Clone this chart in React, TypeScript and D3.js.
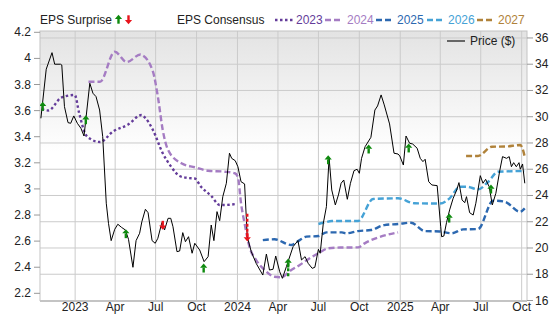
import React from "react";
import * as d3 from "d3";

// ---------- DATA ----------
const PRICE: [string, number][] = [
  ["2022-10-16", 29.88], ["2022-10-28", 33.62], ["2022-11-10", 34.88], ["2022-11-16", 34.0],
  ["2022-11-29", 34.0], ["2022-12-02", 33.94], ["2022-12-08", 30.77], ["2022-12-16", 29.55],
  ["2022-12-22", 29.5], ["2022-12-29", 30.06], ["2023-01-06", 29.5], ["2023-01-14", 29.12],
  ["2023-01-21", 28.53], ["2023-02-03", 32.55], ["2023-02-10", 31.79], ["2023-02-17", 31.53],
  ["2023-02-25", 30.51], ["2023-03-04", 28.48], ["2023-03-12", 23.41], ["2023-03-17", 21.88],
  ["2023-03-23", 20.56], ["2023-03-31", 21.42], ["2023-04-07", 21.81], ["2023-04-15", 21.58],
  ["2023-04-24", 21.37], ["2023-05-01", 20.66], ["2023-05-11", 18.53], ["2023-05-18", 20.56],
  ["2023-05-26", 21.12], ["2023-05-31", 22.0], ["2023-06-08", 22.95], ["2023-06-14", 22.69],
  ["2023-06-23", 20.56], ["2023-06-30", 20.36], ["2023-07-06", 20.74], ["2023-07-15", 21.93],
  ["2023-07-21", 21.37], ["2023-07-29", 22.26], ["2023-08-04", 22.26], ["2023-08-09", 21.62],
  ["2023-08-18", 19.72], ["2023-08-24", 19.77], ["2023-08-31", 21.17], ["2023-09-06", 20.48],
  ["2023-09-13", 20.86], ["2023-09-21", 19.6], ["2023-09-27", 20.36], ["2023-10-08", 19.85],
  ["2023-10-18", 18.96], ["2023-10-27", 19.34], ["2023-11-03", 21.75], ["2023-11-09", 20.56],
  ["2023-11-16", 22.77], ["2023-11-22", 22.08], ["2023-11-29", 23.91], ["2023-12-07", 24.93],
  ["2023-12-14", 27.22], ["2023-12-19", 26.83], ["2023-12-27", 26.65], ["2024-01-02", 26.19],
  ["2024-01-09", 25.05], ["2024-01-17", 24.88], ["2024-01-23", 20.86], ["2024-02-01", 19.72],
  ["2024-02-12", 18.83], ["2024-02-27", 17.94], ["2024-03-06", 19.54], ["2024-03-13", 18.32],
  ["2024-03-21", 18.38], ["2024-03-27", 19.39], ["2024-04-05", 18.19], ["2024-04-11", 17.69],
  ["2024-04-20", 18.58], ["2024-05-05", 20.1], ["2024-05-16", 20.56], ["2024-05-24", 19.09],
  ["2024-06-01", 19.34], ["2024-06-08", 18.83], ["2024-06-17", 18.45], ["2024-06-23", 18.53],
  ["2024-07-01", 19.9], ["2024-07-05", 19.6], ["2024-07-12", 21.88], ["2024-07-19", 23.15],
  ["2024-07-25", 26.88], ["2024-07-31", 24.42], ["2024-08-08", 23.28], ["2024-08-15", 24.04],
  ["2024-08-21", 24.93], ["2024-08-27", 25.18], ["2024-09-04", 23.71], ["2024-09-11", 24.93],
  ["2024-09-19", 25.89], ["2024-09-26", 26.0], ["2024-10-01", 25.69], ["2024-10-06", 26.83],
  ["2024-10-14", 27.72], ["2024-10-27", 28.43], ["2024-11-05", 30.51], ["2024-11-11", 30.82],
  ["2024-11-19", 31.66], ["2024-11-26", 30.9], ["2024-12-08", 29.45], ["2024-12-18", 27.22],
  ["2024-12-27", 27.16], ["2024-12-31", 27.01], ["2025-01-08", 26.32], ["2025-01-14", 28.53],
  ["2025-01-22", 27.98], ["2025-01-29", 27.92], ["2025-02-08", 27.6], ["2025-02-15", 26.83],
  ["2025-02-21", 26.58], ["2025-02-26", 26.76], ["2025-03-06", 25.05], ["2025-03-13", 24.8],
  ["2025-03-25", 24.75], ["2025-04-02", 21.62], ["2025-04-04", 20.86], ["2025-04-09", 20.91],
  ["2025-04-15", 21.93], ["2025-04-22", 22.9], ["2025-04-30", 23.79], ["2025-05-08", 24.42],
  ["2025-05-13", 24.98], ["2025-05-20", 23.66], ["2025-05-26", 23.45], ["2025-05-30", 23.91],
  ["2025-06-06", 22.69], ["2025-06-14", 22.51], ["2025-06-20", 23.41], ["2025-06-30", 25.51],
  ["2025-07-06", 24.93], ["2025-07-12", 25.23], ["2025-07-20", 24.67], ["2025-07-27", 23.28],
  ["2025-08-04", 24.17], ["2025-08-13", 25.94], ["2025-08-19", 26.96], ["2025-08-28", 26.83],
  ["2025-09-03", 26.96], ["2025-09-08", 26.19], ["2025-09-13", 26.5], ["2025-09-19", 26.19],
  ["2025-09-25", 26.5], ["2025-09-28", 26.0], ["2025-10-03", 26.4], ["2025-10-08", 24.93],
];

const EPS_2023: [string, number][] = [
  ["2022-10-18", 3.612], ["2022-11-02", 3.601], ["2022-12-01", 3.7], ["2022-12-31", 3.72],
  ["2023-01-10", 3.582], ["2023-01-23", 3.428], ["2023-02-03", 3.386], ["2023-02-26", 3.359],
  ["2023-03-27", 3.44], ["2023-04-30", 3.493], ["2023-05-30", 3.566], ["2023-06-07", 3.547],
  ["2023-06-25", 3.451], ["2023-07-17", 3.273], ["2023-08-05", 3.17], ["2023-08-24", 3.099],
  ["2023-09-12", 3.084], ["2023-09-27", 3.08], ["2023-10-11", 3.017], ["2023-11-03", 2.946],
  ["2023-11-22", 2.877], ["2023-12-03", 2.877], ["2023-12-28", 2.884],
];

const EPS_2024: [string, number][] = [
  ["2023-01-31", 3.821], ["2023-02-26", 3.821], ["2023-03-31", 4.051], ["2023-04-27", 3.972],
  ["2023-05-28", 4.03], ["2023-05-31", 4.026], ["2023-06-25", 3.898], ["2023-07-06", 3.707],
  ["2023-07-17", 3.451], ["2023-07-29", 3.298], ["2023-08-28", 3.196], ["2023-09-27", 3.166],
  ["2023-10-27", 3.139], ["2023-12-03", 3.132], ["2023-12-26", 3.12], ["2024-01-02", 3.091],
  ["2024-01-09", 2.89], ["2024-01-17", 2.736], ["2024-01-28", 2.557], ["2024-02-12", 2.455],
  ["2024-03-02", 2.379], ["2024-03-24", 2.327], ["2024-04-08", 2.323], ["2024-05-01", 2.379],
  ["2024-05-20", 2.417], ["2024-06-08", 2.461], ["2024-07-01", 2.507], ["2024-07-23", 2.545],
  ["2024-08-19", 2.551], ["2024-09-28", 2.552], ["2024-10-13", 2.583], ["2024-12-27", 2.667],
];

const EPS_2025: [string, number][] = [
  ["2024-02-27", 2.608], ["2024-03-24", 2.614], ["2024-05-01", 2.57], ["2024-05-20", 2.608],
  ["2024-06-04", 2.634], ["2024-07-01", 2.639], ["2024-07-19", 2.667], ["2024-08-23", 2.667],
  ["2024-09-01", 2.66], ["2024-09-28", 2.677], ["2024-10-27", 2.685], ["2024-11-26", 2.723],
  ["2024-12-27", 2.731], ["2025-01-25", 2.741], ["2025-02-25", 2.677], ["2025-03-31", 2.674],
  ["2025-04-26", 2.66], ["2025-05-22", 2.69], ["2025-06-25", 2.693], ["2025-07-29", 2.91],
  ["2025-08-24", 2.902], ["2025-09-27", 2.825], ["2025-10-08", 2.851],
];

const EPS_2026: [string, number][] = [
  ["2024-07-01", 2.731], ["2024-07-16", 2.744], ["2024-07-31", 2.754], ["2024-09-28", 2.754],
  ["2024-11-01", 2.923], ["2024-12-27", 2.928], ["2025-02-02", 2.89], ["2025-03-31", 2.888],
  ["2025-04-22", 2.928], ["2025-05-15", 3.017], ["2025-05-30", 3.017], ["2025-06-25", 2.997],
  ["2025-07-18", 3.055], ["2025-08-09", 3.132], ["2025-10-08", 3.137],
];

const EPS_2027: [string, number][] = [
  ["2025-05-29", 3.252], ["2025-06-25", 3.252], ["2025-07-26", 3.323], ["2025-08-27", 3.325],
  ["2025-09-28", 3.336], ["2025-10-08", 3.247],
];

// earnings surprises: date, price level, direction, optional long-tail price
const SURPRISE_DATES = [
  "2022-10-20", "2023-01-25", "2023-04-25", "2023-07-17", "2023-10-17", "2024-01-23",
  "2024-04-24", "2024-07-23", "2024-10-22", "2025-01-20", "2025-04-21", "2025-07-24",
];
const SURPRISE_PRICES = [30.77, 29.75, 21.07, 21.75, 18.45, 20.86, 18.83, 26.7, 27.52, 27.6, 22.26, 24.47];
const SURPRISE_DIRS = ["up", "up", "up", "down", "up", "down", "up", "up", "up", "up", "up", "up"];
const SURPRISE_TAILS: (number | null)[] = [null, null, null, null, null, 22.67, 17.71, null, null, null, null, null];

const X_TICK_DATES = [
  "2023-01-01", "2023-04-01", "2023-07-01", "2023-10-01", "2024-01-01", "2024-04-01",
  "2024-07-01", "2024-10-01", "2025-01-01", "2025-04-01", "2025-07-01", "2025-10-01",
];
const X_TICK_LABELS = ["2023", "Apr", "Jul", "Oct", "2024", "Apr", "Jul", "Oct", "2025", "Apr", "Jul", "Oct"];
const LEFT_TICKS = [2.2, 2.4, 2.6, 2.8, 3.0, 3.2, 3.4, 3.6, 3.8, 4.0, 4.2];
const LEFT_TICK_LABELS = ["2.2", "2.4", "2.6", "2.8", "3", "3.2", "3.4", "3.6", "3.8", "4", "4.2"];
const RIGHT_TICKS = [16, 18, 20, 22, 24, 26, 28, 30, 32, 34, 36];

const SERIES_NAMES = ["2023", "2024", "2025", "2026", "2027"];

// ---------- STYLE ----------
const FONT = "'Liberation Sans', Arial, sans-serif";
const COLORS = ["#643c9a", "#a57cc3", "#2c68b0", "#45a2d6", "#b0823a"];
const DASHES = ["2.5,2.5", "6,3", "6,3", "6,3", "6,3"];
const GREEN = "#0e8a0e";
const RED = "#e8141c";

const W = 556;
const H = 315;
const L = 40;
const R = 527;
const T = 31;
const B = 300.5;

const parse = d3.timeParse("%Y-%m-%d")!;

export default function App() {
  const x = d3
    .scaleTime()
    .domain([parse("2022-10-14")!, parse("2025-10-13")!])
    .range([L, R]);
  const yL = d3.scaleLinear().domain([2.145, 4.21]).range([B, T]);
  const yR = d3.scaleLinear().domain([16, 36.53]).range([B, T]);

  const priceLine = d3
    .line<[string, number]>()
    .x((d) => x(parse(d[0])!))
    .y((d) => yR(d[1]));
  const epsLine = d3
    .line<[string, number]>()
    .x((d) => x(parse(d[0])!))
    .y((d) => yL(d[1]))
    .curve(d3.curveMonotoneX);

  const epsSeries = [EPS_2023, EPS_2024, EPS_2025, EPS_2026, EPS_2027];

  const arrow = (cx: number, cy: number, dir: string, color: string, key: any) => {
    const s = dir === "up" ? 1 : -1;
    const head = `${cx},${cy - 4.8 * s} ${cx + 3.6},${cy - 0.6 * s} ${cx - 3.6},${cy - 0.6 * s}`;
    const y1 = cy - 0.6 * s;
    const y2 = cy + 4.2 * s;
    return (
      <g key={key}>
        <polygon points={head} fill={color} />
        <rect x={cx - 1.2} y={Math.min(y1, y2)} width={2.4} height={Math.abs(y2 - y1)} fill={color} />
      </g>
    );
  };

  // legend layout
  const legendY = 24;
  const legendItems = [
    { lx: 275, tx: 296 },
    { lx: 325, tx: 347 },
    { lx: 376, tx: 397 },
    { lx: 427, tx: 448 },
    { lx: 477, tx: 498 },
  ];

  return (
    <svg width={W} height={H} style={{ display: "block", position: "absolute", left: 0, top: 0 }} fontFamily={FONT}>
      <defs>
        <linearGradient id="bg" x1="0" y1="0" x2="0" y2="1">
          <stop offset="0" stopColor="#e3e3e3" />
          <stop offset="0.45" stopColor="#ffffff" />
          <stop offset="1" stopColor="#ffffff" />
        </linearGradient>
        <clipPath id="plot">
          <rect x={L} y={T} width={R - L} height={B - T} />
        </clipPath>
      </defs>
      <rect x={0} y={0} width={W} height={H} fill="#fff" />
      <rect x={L} y={T} width={R - L} height={B - T} fill="url(#bg)" />

      {/* grid */}
      {RIGHT_TICKS.map((t) => (
        <line key={"gh" + t} x1={L} x2={R} y1={yR(t)} y2={yR(t)} stroke="#cbcbcb" strokeWidth={1} />
      ))}
      {X_TICK_DATES.map((d) => (
        <line key={"gv" + d} x1={x(parse(d)!)} x2={x(parse(d)!)} y1={T} y2={B} stroke="#cbcbcb" strokeWidth={1} />
      ))}
      <rect x={L} y={T} width={R - L} height={B - T} fill="none" stroke="#c4c4c4" strokeWidth={1} />
      <line x1={L} x2={R} y1={B + 1} y2={B + 1} stroke="#c4c4c4" strokeWidth={1} />

      {/* left axis */}
      {LEFT_TICKS.map((t, i) => (
        <g key={"lt" + t}>
          <line x1={L - 6} x2={L} y1={yL(t)} y2={yL(t)} stroke="#999" />
          <text x={L - 9} y={yL(t) + 4} textAnchor="end" fontSize={12} fill="#222">
            {LEFT_TICK_LABELS[i]}
          </text>
        </g>
      ))}
      {/* right axis */}
      {RIGHT_TICKS.map((t) => (
        <g key={"rt" + t}>
          <line x1={R} x2={R + 6} y1={yR(t)} y2={yR(t)} stroke="#999" />
          <text x={R + 8} y={yR(t) + 4} textAnchor="start" fontSize={12} fill="#222">
            {t}
          </text>
        </g>
      ))}
      {/* bottom axis */}
      {X_TICK_DATES.map((d, i) => (
        <text key={"xt" + d} x={x(parse(d)!)} y={311} textAnchor="middle" fontSize={12} fill="#222">
          {X_TICK_LABELS[i]}
        </text>
      ))}

      <g clipPath="url(#plot)">
        {epsSeries.map((s, i) => (
          <path
            key={"eps" + i}
            d={epsLine(s) || ""}
            fill="none"
            stroke={COLORS[i]}
            strokeWidth={2.4}
            strokeDasharray={DASHES[i]}
          />
        ))}
        <path d={priceLine(PRICE) || ""} fill="none" stroke="#000" strokeWidth={1} />
        {SURPRISE_DATES.map((d, i) => {
          const cx = x(parse(d)!);
          const cy = yR(SURPRISE_PRICES[i]);
          const col = SURPRISE_DIRS[i] === "up" ? GREEN : RED;
          const tail = SURPRISE_TAILS[i];
          return (
            <g key={"s" + i}>
              {tail !== null && (
                <line x1={cx} x2={cx} y1={cy} y2={yR(tail)} stroke={col} strokeWidth={2.4} strokeDasharray="3,2" />
              )}
              {arrow(cx, cy, SURPRISE_DIRS[i], col, "a" + i)}
            </g>
          );
        })}
      </g>

      {/* price legend */}
      <line x1={447} x2={465} y1={41} y2={41} stroke="#666" strokeWidth={2} />
      <text x={470} y={45} fontSize={12} fill="#222">
        Price ($)
      </text>

      {/* top legend */}
      <text x={40} y={legendY} fontSize={12} fill="#222">
        EPS Surprise
      </text>
      {arrow(118.5, legendY - 4.5, "up", GREEN, "lg1")}
      {arrow(128.5, legendY - 4.5, "down", RED, "lg2")}
      <text x={177} y={legendY} fontSize={12} fill="#222">
        EPS Consensus
      </text>
      {SERIES_NAMES.map((n, i) => (
        <g key={"lg" + n}>
          <line
            x1={legendItems[i].lx}
            x2={legendItems[i].lx + 18}
            y1={legendY - 4}
            y2={legendY - 4}
            stroke={COLORS[i]}
            strokeWidth={2.4}
            strokeDasharray={DASHES[i]}
          />
          <text x={legendItems[i].tx} y={legendY} fontSize={12} fill={COLORS[i]}>
            {n}
          </text>
        </g>
      ))}
    </svg>
  );
}
